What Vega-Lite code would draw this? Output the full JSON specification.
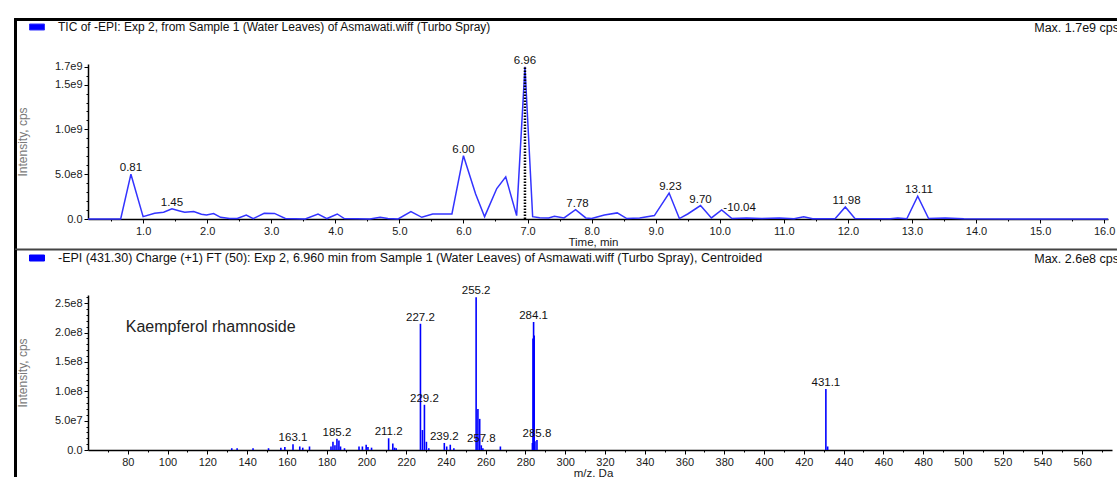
{
  "$schema": "https://vega.github.io/schema/vega-lite/v6.json",
  "background": "white",
  "padding": {"left": 13, "top": 16, "right": 0, "bottom": 0},
  "autosize": {"type": "pad"},
  "spacing": 76,
  "bounds": "flush",
  "config": {
    "view": {"stroke": null},
    "font": "Liberation Sans",
    "axis": {
      "domainColor": "#000000", "domainWidth": 1.5, "tickColor": "#000000", "tickWidth": 1,
      "labelFont": "Liberation Sans", "labelFontSize": 11, "labelColor": "#1a1a1a", "labelPadding": 2,
      "titleFont": "Liberation Sans", "titleFontSize": 11.5, "titleFontWeight": "normal", "titleColor": "#1a1a1a",
      "grid": false, "labelFlush": false, "labelOverlap": false
    },
    "legend": {
      "orient": "none", "title": null, "symbolType": "M-1,-0.4H1V0.4H-1Z", "symbolSize": 225,
      "symbolFillColor": "#0000ff", "symbolStrokeColor": "#000000", "symbolStrokeWidth": 1, "symbolOpacity": 1,
      "labelFont": "Liberation Sans", "labelFontSize": 12, "labelColor": "#111111", "labelOffset": 13, "labelLimit": 2000, "padding": 0
    }
  },
  "resolve": {"scale": {"color": "independent"}, "legend": {"color": "independent"}},
  "vconcat": [
    {
      "width": 1020,
      "height": 155,
      "resolve": {"axis": {"x": "independent", "y": "independent"}},
      "layer": [
        {
          "data": {"values": [
            {"t": 0.14, "i": 0}, {"t": 0.65, "i": 0}, {"t": 0.81, "i": 500000000}, {"t": 1.0, "i": 26000000},
            {"t": 1.18, "i": 64000000}, {"t": 1.32, "i": 75000000}, {"t": 1.45, "i": 113000000}, {"t": 1.57, "i": 90000000},
            {"t": 1.65, "i": 75000000}, {"t": 1.79, "i": 83000000}, {"t": 1.91, "i": 53000000}, {"t": 1.99, "i": 45000000},
            {"t": 2.10, "i": 60000000}, {"t": 2.21, "i": 19000000}, {"t": 2.35, "i": 5000000}, {"t": 2.47, "i": 5000000},
            {"t": 2.61, "i": 45000000}, {"t": 2.72, "i": 5000000}, {"t": 2.89, "i": 64000000}, {"t": 3.05, "i": 62000000},
            {"t": 3.22, "i": 5000000}, {"t": 3.53, "i": 0}, {"t": 3.73, "i": 56000000}, {"t": 3.87, "i": 5000000},
            {"t": 4.03, "i": 56000000}, {"t": 4.14, "i": 5000000}, {"t": 4.54, "i": 0}, {"t": 4.70, "i": 19000000},
            {"t": 4.82, "i": 5000000}, {"t": 4.98, "i": 0}, {"t": 5.18, "i": 83000000}, {"t": 5.35, "i": 19000000},
            {"t": 5.52, "i": 56000000}, {"t": 5.82, "i": 56000000}, {"t": 6.00, "i": 707000000}, {"t": 6.19, "i": 280000000},
            {"t": 6.33, "i": 26000000}, {"t": 6.52, "i": 340000000}, {"t": 6.66, "i": 470000000}, {"t": 6.83, "i": 38000000},
            {"t": 6.96, "i": 1700000000}, {"t": 7.08, "i": 26000000}, {"t": 7.19, "i": 15000000}, {"t": 7.33, "i": 12000000},
            {"t": 7.42, "i": 30000000}, {"t": 7.57, "i": 12000000}, {"t": 7.75, "i": 105000000}, {"t": 7.91, "i": 12000000},
            {"t": 8.0, "i": 5000000}, {"t": 8.2, "i": 45000000}, {"t": 8.40, "i": 68000000}, {"t": 8.55, "i": 5000000},
            {"t": 8.75, "i": 12000000}, {"t": 8.98, "i": 38000000}, {"t": 9.21, "i": 290000000}, {"t": 9.37, "i": 5000000},
            {"t": 9.50, "i": 56000000}, {"t": 9.70, "i": 150000000}, {"t": 9.87, "i": 12000000}, {"t": 10.03, "i": 102000000},
            {"t": 10.19, "i": 5000000}, {"t": 10.42, "i": 12000000}, {"t": 10.65, "i": 5000000}, {"t": 10.93, "i": 12000000},
            {"t": 11.16, "i": 2000000}, {"t": 11.31, "i": 26000000}, {"t": 11.45, "i": 2000000}, {"t": 11.80, "i": 2000000},
            {"t": 11.96, "i": 135000000}, {"t": 12.11, "i": 5000000}, {"t": 12.66, "i": 2000000}, {"t": 12.78, "i": 12000000},
            {"t": 12.92, "i": 2000000}, {"t": 13.09, "i": 255000000}, {"t": 13.26, "i": 5000000}, {"t": 13.52, "i": 12000000},
            {"t": 13.81, "i": 2000000}, {"t": 16.06, "i": 0}
          ]},
          "mark": {"type": "line", "strokeWidth": 1.5},
          "encoding": {
            "x": {
              "field": "t", "type": "quantitative",
              "scale": {"domain": [0.14, 16.06], "nice": false, "zero": false},
              "axis": {
                "orient": "bottom", "title": "Time, min", "titleX": 505, "titleY": 17, "titleBaseline": "top",
                "values": [1, 2, 3, 4, 5, 6, 7, 8, 9, 10, 11, 12, 13, 14, 15, 16],
                "format": ".1f", "tickSize": 4
              }
            },
            "y": {
              "field": "i", "type": "quantitative",
              "scale": {"domain": [0, 1730000000], "nice": false},
              "axis": {
                "orient": "left", "title": "Intensity, cps", "titleColor": "#7a7a7a", "titleFontSize": 12, "titleX": -59, "titleY": 77.5,
                "values": [0, 500000000, 1000000000, 1500000000, 1700000000],
                "labelExpr": "datum.value == 0 ? '0.0' : replace(format(datum.value, '.1e'), 'e+', 'e')",
                "tickSize": 4
              }
            },
            "color": {
              "datum": "TIC of -EPI: Exp 2, from Sample 1 (Water Leaves) of Asmawati.wiff (Turbo Spray)",
              "scale": {"range": ["#3333ff"]},
              "legend": {
                "legendX": -59, "legendY": -45, "labelFontSize": 12,
                "encode": {"symbols": {"update": {"fill": {"value": "#0000ff"}, "stroke": {"value": "#000000"}, "strokeWidth": {"value": 1}, "opacity": {"value": 1}}}}
              }
            }
          }
        },
        {
          "data": {"values": [{}]},
          "mark": {"type": "point", "opacity": 0},
          "encoding": {
            "x": {"datum": 1, "type": "quantitative", "axis": {"orient": "bottom", "title": null, "labels": false, "domain": false, "tickSize": 2,
              "values": [0.5, 1.5, 2.5, 3.5, 4.5, 5.5, 6.5, 7.5, 8.5, 9.5, 10.5, 11.5, 12.5, 13.5, 14.5, 15.5]}},
            "y": {"datum": 0, "type": "quantitative", "axis": {"orient": "left", "title": null, "labels": false, "domain": false, "tickSize": 2,
              "values": [100000000, 200000000, 300000000, 400000000, 600000000, 700000000, 800000000, 900000000, 1100000000, 1200000000, 1300000000, 1400000000, 1600000000]}}
          }
        },
        {
          "data": {"values": [{}]},
          "mark": {"type": "rule", "strokeDash": [1.5, 1.5], "strokeWidth": 2.5, "color": "#000000"},
          "encoding": {"x": {"datum": 6.96, "axis": null}, "y": {"datum": 0, "axis": null}, "y2": {"datum": 1700000000}}
        },
        {
          "data": {"values": [
            {"t": 0.81, "i": 500000000, "label": "0.81"}, {"t": 1.45, "i": 113000000, "label": "1.45"},
            {"t": 6.00, "i": 707000000, "label": "6.00"}, {"t": 6.96, "i": 1700000000, "label": "6.96"},
            {"t": 7.78, "i": 105000000, "label": "7.78"}, {"t": 9.23, "i": 290000000, "label": "9.23"},
            {"t": 9.70, "i": 150000000, "label": "9.70"}, {"t": 11.98, "i": 135000000, "label": "11.98"},
            {"t": 13.11, "i": 255000000, "label": "13.11"}
          ]},
          "mark": {"type": "text", "baseline": "bottom", "dy": -1, "fontSize": 11.5, "font": "Liberation Sans", "color": "#111111"},
          "encoding": {"x": {"field": "t", "type": "quantitative", "axis": null}, "y": {"field": "i", "type": "quantitative", "axis": null}, "text": {"field": "label"}}
        },
        {
          "data": {"values": [{"t": 10.04, "i": 102000000, "label": "-10.04"}]},
          "mark": {"type": "text", "baseline": "bottom", "align": "left", "dx": 1, "dy": 3, "fontSize": 11.5, "font": "Liberation Sans", "color": "#111111"},
          "encoding": {"x": {"field": "t", "type": "quantitative", "axis": null}, "y": {"field": "i", "type": "quantitative", "axis": null}, "text": {"field": "label"}}
        },
        {
          "data": {"values": [{}]},
          "mark": {"type": "text", "align": "right", "baseline": "middle", "dx": 11, "fontSize": 12.5, "font": "Liberation Sans", "color": "#111111", "text": "Max. 1.7e9 cps"},
          "encoding": {"x": {"datum": 16.06, "axis": null}, "y": {"datum": 2132000000, "axis": null}}
        },
        {
          "data": {"values": [{}]},
          "mark": {"type": "rule", "strokeWidth": 3, "color": "#000000"},
          "encoding": {"x": {"datum": -0.9916, "axis": null}, "y": {"datum": 2243000000, "axis": null}, "y2": {"datum": -346000000}}
        },
        {
          "data": {"values": [{}]},
          "mark": {"type": "rule", "strokeWidth": 3, "color": "#000000"},
          "encoding": {"x": {"datum": -1.0, "axis": null}, "x2": {"datum": 16.2}, "y": {"datum": 2227000000, "axis": null}}
        },
        {
          "data": {"values": [{}]},
          "mark": {"type": "rule", "strokeWidth": 2, "color": "#444444"},
          "encoding": {"x": {"datum": -1.0, "axis": null}, "x2": {"datum": 16.2}, "y": {"datum": -340000000, "axis": null}}
        }
      ]
    },
    {
      "width": 1024,
      "height": 155,
      "resolve": {"axis": {"x": "independent", "y": "independent"}},
      "layer": [
        {
          "data": {"values": [
            {"mz": 132.3, "i": 3000000}, {"mz": 135.0, "i": 3000000}, {"mz": 143.0, "i": 3000000}, {"mz": 150.8, "i": 3000000},
            {"mz": 157.0, "i": 4000000}, {"mz": 159.0, "i": 5000000}, {"mz": 163.1, "i": 10000000}, {"mz": 166.5, "i": 6000000},
            {"mz": 168.0, "i": 4000000}, {"mz": 171.4, "i": 6000000}, {"mz": 182.2, "i": 6000000}, {"mz": 183.2, "i": 14000000},
            {"mz": 184.2, "i": 8000000}, {"mz": 185.2, "i": 19000000}, {"mz": 186.2, "i": 16000000}, {"mz": 187.0, "i": 6000000},
            {"mz": 189.0, "i": 3000000}, {"mz": 196.3, "i": 6000000}, {"mz": 198.0, "i": 6000000}, {"mz": 199.9, "i": 9000000},
            {"mz": 200.8, "i": 5000000}, {"mz": 202.6, "i": 4000000}, {"mz": 211.2, "i": 20000000}, {"mz": 213.3, "i": 11000000},
            {"mz": 214.2, "i": 4000000}, {"mz": 215.0, "i": 3000000}, {"mz": 227.2, "i": 215000000}, {"mz": 228.2, "i": 34000000},
            {"mz": 229.2, "i": 77000000}, {"mz": 230.2, "i": 14000000}, {"mz": 231.4, "i": 3000000}, {"mz": 239.2, "i": 12000000},
            {"mz": 240.4, "i": 6000000}, {"mz": 242.2, "i": 9000000}, {"mz": 244.0, "i": 3000000}, {"mz": 255.2, "i": 260000000},
            {"mz": 256.1, "i": 70000000}, {"mz": 257.0, "i": 53000000}, {"mz": 257.8, "i": 8000000}, {"mz": 258.6, "i": 3000000},
            {"mz": 267.4, "i": 6000000}, {"mz": 283.5, "i": 12000000}, {"mz": 283.8, "i": 190000000}, {"mz": 284.1, "i": 218000000},
            {"mz": 284.4, "i": 195000000}, {"mz": 284.8, "i": 15000000}, {"mz": 285.8, "i": 17000000}, {"mz": 431.1, "i": 104000000},
            {"mz": 432.0, "i": 6000000}
          ]},
          "mark": {"type": "rule", "strokeWidth": 1.6},
          "encoding": {
            "x": {
              "field": "mz", "type": "quantitative",
              "scale": {"domain": [60, 575], "nice": false, "zero": false},
              "axis": {
                "orient": "bottom", "title": "m/z, Da", "titleX": 505, "titleY": 17, "titleBaseline": "top",
                "values": [80, 100, 120, 140, 160, 180, 200, 220, 240, 260, 280, 300, 320, 340, 360, 380, 400, 420, 440, 460, 480, 500, 520, 540, 560],
                "format": "d", "tickSize": 4
              }
            },
            "y": {
              "field": "i", "type": "quantitative",
              "scale": {"domain": [0, 264000000], "nice": false},
              "axis": {
                "orient": "left", "title": "Intensity, cps", "titleColor": "#7a7a7a", "titleFontSize": 12, "titleX": -59, "titleY": 77.5,
                "values": [0, 50000000, 100000000, 150000000, 200000000, 250000000],
                "labelExpr": "datum.value == 0 ? '0.0' : replace(format(datum.value, '.1e'), 'e+', 'e')",
                "tickSize": 4
              }
            },
            "y2": {"datum": 0},
            "color": {
              "datum": "-EPI (431.30) Charge (+1) FT (50): Exp 2, 6.960 min from Sample 1 (Water Leaves) of Asmawati.wiff (Turbo Spray), Centroided",
              "scale": {"range": ["#0000ff"]},
              "legend": {
                "legendX": -59, "legendY": -45, "labelFontSize": 12.5,
                "encode": {"symbols": {"update": {"fill": {"value": "#0000ff"}, "stroke": {"value": "#000000"}, "strokeWidth": {"value": 1}, "opacity": {"value": 1}}}}
              }
            }
          }
        },
        {
          "data": {"values": [{}]},
          "mark": {"type": "point", "opacity": 0},
          "encoding": {
            "x": {"datum": 100, "type": "quantitative", "axis": {"orient": "bottom", "title": null, "labels": false, "domain": false, "tickSize": 2,
              "values": [70, 90, 110, 130, 150, 170, 190, 210, 230, 250, 270, 290, 310, 330, 350, 370, 390, 410, 430, 450, 470, 490, 510, 530, 550, 570]}},
            "y": {"datum": 0, "type": "quantitative", "axis": {"orient": "left", "title": null, "labels": false, "domain": false, "tickSize": 2,
              "values": [10000000, 20000000, 30000000, 40000000, 60000000, 70000000, 80000000, 90000000, 110000000, 120000000, 130000000, 140000000, 160000000, 170000000, 180000000, 190000000, 210000000, 220000000, 230000000, 240000000, 260000000]}}
          }
        },
        {
          "data": {"values": [
            {"mz": 163.1, "i": 10000000, "label": "163.1"}, {"mz": 185.2, "i": 19000000, "label": "185.2"},
            {"mz": 211.2, "i": 20000000, "label": "211.2"}, {"mz": 227.2, "i": 215000000, "label": "227.2"},
            {"mz": 229.2, "i": 77000000, "label": "229.2"}, {"mz": 239.2, "i": 12000000, "label": "239.2"},
            {"mz": 255.2, "i": 260000000, "label": "255.2"}, {"mz": 257.8, "i": 8000000, "label": "257.8"},
            {"mz": 284.1, "i": 218000000, "label": "284.1"}, {"mz": 285.8, "i": 17000000, "label": "285.8"},
            {"mz": 431.1, "i": 104000000, "label": "431.1"}
          ]},
          "mark": {"type": "text", "baseline": "bottom", "dy": -1, "fontSize": 11.5, "font": "Liberation Sans", "color": "#111111"},
          "encoding": {"x": {"field": "mz", "type": "quantitative", "axis": null}, "y": {"field": "i", "type": "quantitative", "axis": null}, "text": {"field": "label"}}
        },
        {
          "data": {"values": [{}]},
          "mark": {"type": "text", "align": "left", "baseline": "middle", "fontSize": 16, "font": "Liberation Sans", "color": "#222222", "text": "Kaempferol rhamnoside"},
          "encoding": {"x": {"datum": 79, "axis": null}, "y": {"datum": 209000000, "axis": null}}
        },
        {
          "data": {"values": [{}]},
          "mark": {"type": "text", "align": "right", "baseline": "middle", "dx": 7, "fontSize": 12.5, "font": "Liberation Sans", "color": "#111111", "text": "Max. 2.6e8 cps"},
          "encoding": {"x": {"datum": 575, "axis": null}, "y": {"datum": 326000000, "axis": null}}
        },
        {
          "data": {"values": [{}]},
          "mark": {"type": "rule", "strokeWidth": 3, "color": "#000000"},
          "encoding": {"x": {"datum": 23.54, "axis": null}, "y": {"datum": 340600000, "axis": null}, "y2": {"datum": -47700000}}
        }
      ]
    }
  ]
}
